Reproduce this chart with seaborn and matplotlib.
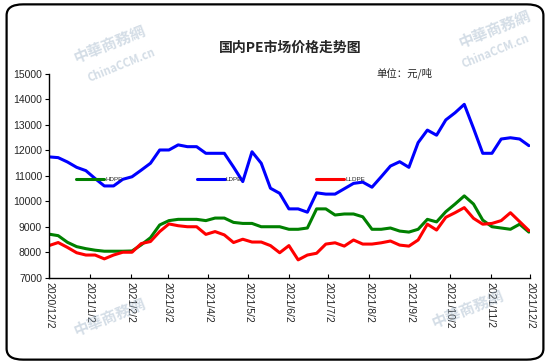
import numpy as np
import pandas as pd
import matplotlib
matplotlib.use("Agg")
import matplotlib.pyplot as plt
import seaborn as sns
from matplotlib.patches import FancyBboxPatch

# ------- Data (weekly prices, yuan/ton) -------
start_date = "2020-12-02"
n_weeks = 53

hdpe = [8720, 8660, 8400, 8230, 8150, 8090, 8050, 8050, 8050, 8060,
        8300, 8580, 9080, 9250, 9300, 9300, 9300, 9250, 9350, 9350,
        9180, 9140, 9140, 9010, 9010, 9010, 8910, 8910, 8960, 9710,
        9710, 9470, 9510, 9510, 9400, 8910, 8910, 8960, 8840, 8800,
        8910, 9300, 9200, 9600, 9900, 10220, 9900, 9270, 9010, 8960,
        8910, 9110, 8800]
ldpe = [11750, 11720, 11550, 11340, 11210, 10900, 10610, 10610, 10870, 10970,
        11230, 11500, 12020, 12020, 12220, 12150, 12150, 11890, 11890, 11890,
        11350, 10780, 11950, 11500, 10520, 10320, 9710, 9710, 9580, 10340,
        10290, 10290, 10500, 10710, 10760, 10560, 10970, 11390, 11560, 11340,
        12310, 12800, 12600, 13200, 13480, 13810, 12870, 11890, 11890, 12450,
        12500, 12450, 12190]
lldpe = [8270, 8390, 8200, 7990, 7900, 7900, 7750, 7900, 8010, 8010,
         8350, 8430, 8820, 9120, 9050, 9010, 9010, 8710, 8820, 8690,
         8390, 8520, 8410, 8410, 8270, 7990, 8270, 7710, 7900, 7970,
         8330, 8380, 8250, 8490, 8330, 8330, 8380, 8450, 8290, 8250,
         8490, 9110, 8880, 9380, 9560, 9760, 9340, 9110, 9140, 9250,
         9560, 9210, 8860]

series_names = ["HDPE", "LDPE", "LLDPE"]
series_colors = ["#008000", "#0000FF", "#FF0000"]

tick_dates = ["2020-12-02", "2021-01-02", "2021-02-02", "2021-03-02", "2021-04-02",
              "2021-05-02", "2021-06-02", "2021-07-02", "2021-08-02", "2021-09-02",
              "2021-10-02", "2021-11-02", "2021-12-02"]
tick_labels = ["2020/12/2", "2021/1/2", "2021/2/2", "2021/3/2", "2021/4/2",
               "2021/5/2", "2021/6/2", "2021/7/2", "2021/8/2", "2021/9/2",
               "2021/10/2", "2021/11/2", "2021/12/2"]
y_ticks = [7000, 8000, 9000, 10000, 11000, 12000, 13000, 14000, 15000]

title = "国内PE市场价格走势图"
unit_text = "单位：元/吨"

# ------- Long-form table -------
dates = pd.date_range(start_date, periods=n_weeks, freq="7D")
df = pd.concat([
    pd.DataFrame({"date": dates, "price": vals, "type": name})
    for name, vals in zip(series_names, [hdpe, ldpe, lldpe])
])

sns.set_style("white")
plt.rcParams["font.family"] = ["Liberation Sans", "Noto Sans CJK SC", "DejaVu Sans"]

fig = plt.figure(figsize=(5.5, 3.64), dpi=100)
ax = fig.add_axes([0.089, 0.2363, 0.875, 0.5604])

sns.lineplot(data=df, x="date", y="price", hue="type", hue_order=series_names,
             palette=series_colors, linewidth=2.2, ax=ax)

ax.set_xlim(pd.Timestamp(tick_dates[0]), pd.Timestamp(tick_dates[-1]))
ax.set_ylim(7000, 15000)
ax.set_yticks(y_ticks)
ax.set_yticklabels([str(v) for v in y_ticks], fontsize=7.5)
ax.set_xticks([pd.Timestamp(d) for d in tick_dates])
ax.set_xticklabels(tick_labels, rotation=270, fontsize=7.5, va="top", ha="center")
ax.set_xlabel("")
ax.set_ylabel("")

for s in ["top", "right"]:
    ax.spines[s].set_visible(False)
for s in ["left", "bottom"]:
    ax.spines[s].set_color("black")
    ax.spines[s].set_linewidth(1.0)
ax.tick_params(axis="y", direction="out", length=3, width=0.8, color="black", pad=2)
ax.tick_params(axis="x", direction="in", length=3, width=0.8, color="black", pad=3)
ax.tick_params(left=True, bottom=True)

leg = ax.legend(ncol=3, loc="center left", bbox_to_anchor=(0.045, 0.485),
                frameon=False, fontsize=4.5, handlelength=4.5, handletextpad=0.2,
                columnspacing=11.8)
for line in leg.get_lines():
    line.set_linewidth(2.2)

fig.text(0.527, 0.87, title, ha="center", va="center", fontsize=10,
         fontweight="bold", family=["Noto Sans CJK SC", "DejaVu Sans"])
fig.text(0.736, 0.80, unit_text, ha="center", va="center", fontsize=7.5,
         family=["Noto Sans CJK SC", "DejaVu Sans"])

# faint watermarks
wm_kw = dict(color="#9fb4c8", alpha=0.45, rotation=22, ha="center", va="center",
             family=["Noto Sans CJK TC", "DejaVu Sans"], fontweight="bold", zorder=0)
fig.text(0.2, 0.88, "中華商務網", fontsize=11, **wm_kw)
fig.text(0.22, 0.82, "ChinaCCM.cn", fontsize=8, **wm_kw)
fig.text(0.9, 0.92, "中華商務網", fontsize=11, **wm_kw)
fig.text(0.9, 0.86, "ChinaCCM.cn", fontsize=8, **wm_kw)
fig.text(0.2, 0.13, "中華商務網", fontsize=11, **wm_kw)
fig.text(0.85, 0.15, "中華商務網", fontsize=11, **wm_kw)

# rounded frame around the figure
frame = FancyBboxPatch((0.012, 0.012), 0.976, 0.976, transform=fig.transFigure,
                       boxstyle="round,pad=0,rounding_size=0.03",
                       facecolor="none", edgecolor="black", linewidth=1.6)
fig.patches.append(frame)

fig.savefig("out.png", dpi=100)
